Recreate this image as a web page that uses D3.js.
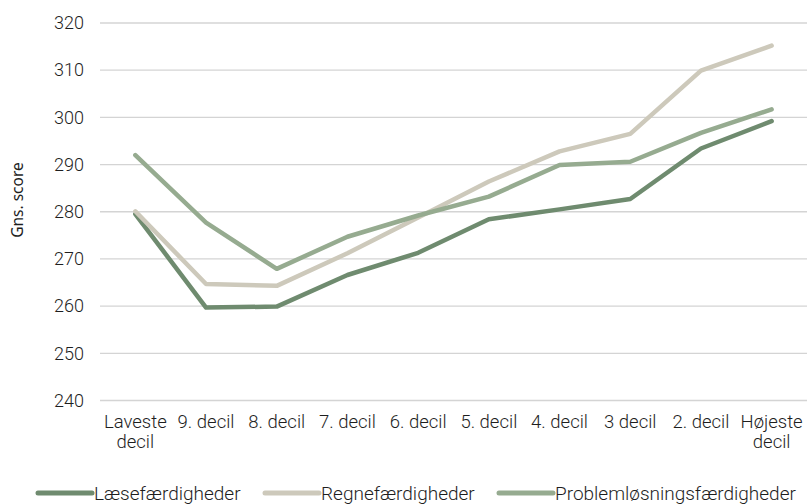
<!DOCTYPE html>
<html>
<head>
<meta charset="utf-8">
<script src="https://cdn.jsdelivr.net/npm/d3@7"></script>
<style>
  body { margin: 0; background: #fff; }
  text { font-family: Roboto, "Noto Sans", sans-serif; font-weight: 300; fill: #1e1e1e; }
</style>
</head>
<body>
<script>
// data
var deciler = ["Laveste decil", "9. decil", "8. decil", "7. decil", "6. decil", "5. decil", "4. decil", "3 decil", "2. decil", "Højeste decil"];
var laese = [279.5, 259.7, 259.9, 266.6, 271.3, 278.4, 280.5, 282.7, 293.4, 299.2];
var regne = [280.1, 264.7, 264.3, 271.2, 278.8, 286.4, 292.8, 296.5, 309.9, 315.2];
var problem = [292.0, 277.7, 267.9, 274.7, 279.2, 283.2, 289.9, 290.6, 296.7, 301.7];
var yTicks = [240, 250, 260, 270, 280, 290, 300, 310, 320];

var serier = [
    { navn: "Læsefærdigheder", vaerdier: laese, farve: "#6f8b6f" },
    { navn: "Regnefærdigheder", vaerdier: regne, farve: "#cdc9bb" },
    { navn: "Problemløsningsfærdigheder", vaerdier: problem, farve: "#96ab90" }
];

var width = 807, height = 504;
var plotLeft = 100, plotRight = 807, plotTop = 23, plotBottom = 400.5;

var svg = d3.select("body").append("svg")
    .attr("width", width)
    .attr("height", height);

var x = d3.scaleBand().domain(deciler).range([plotLeft, plotRight]);
var y = d3.scaleLinear().domain([240, 320]).range([plotBottom, plotTop]);

// gitterlinjer
svg.selectAll(".grid")
    .data(yTicks)
    .enter()
    .append("line")
    .attr("x1", plotLeft)
    .attr("x2", plotRight)
    .attr("y1", function (d) { return y(d); })
    .attr("y2", function (d) { return y(d); })
    .attr("stroke", "#d4d4d4")
    .attr("stroke-width", 1.3);

// y-akse tal
svg.selectAll(".ytick")
    .data(yTicks)
    .enter()
    .append("text")
    .attr("x", 84)
    .attr("y", function (d) { return y(d); })
    .attr("dy", "0.35em")
    .attr("text-anchor", "end")
    .style("font-size", "18px")
    .text(function (d) { return d; });

svg.append("text")
    .attr("transform", "translate(18,200) rotate(-90)")
    .attr("text-anchor", "middle")
    .attr("dy", "0.35em")
    .style("font-family", "'Noto Sans', sans-serif")
    .style("font-weight", "400")
    .style("font-size", "15.5px")
    .text("Gns. score");

// x-akse tekster, på to linjer hvor det behøves
var xl = svg.selectAll(".xtick")
    .data(deciler)
    .enter()
    .append("text")
    .attr("text-anchor", "middle")
    .style("font-size", "18.5px");

xl.each(function (d) {
    var ord = d.split(" ");
    var linjer = (ord[0] === "Laveste" || ord[0] === "Højeste") ? [ord[0], ord[1]] : [d];
    var t = d3.select(this);
    linjer.forEach(function (l, i) {
        t.append("tspan")
            .attr("x", x(d) + x.bandwidth() / 2)
            .attr("y", 428 + i * 20)
            .text(l);
    });
});

// linjer
var line = d3.line()
    .x(function (d, i) { return x(deciler[i]) + x.bandwidth() / 2; })
    .y(function (d) { return y(d); });

svg.selectAll(".serie")
    .data(serier)
    .enter()
    .append("path")
    .attr("d", function (d) { return line(d.vaerdier); })
    .attr("fill", "none")
    .attr("stroke", function (d) { return d.farve; })
    .attr("stroke-width", 4.5)
    .attr("stroke-linejoin", "round")
    .attr("stroke-linecap", "round");

// signaturforklaring
var legX = [36, 263, 497];
var leg = svg.selectAll(".legend")
    .data(serier)
    .enter()
    .append("g")
    .attr("transform", function (d, i) { return "translate(" + legX[i] + ",493)"; });

leg.append("line")
    .attr("x1", 2)
    .attr("x2", 56)
    .attr("stroke", function (d) { return d.farve; })
    .attr("stroke-width", 5)
    .attr("stroke-linecap", "round");

leg.append("text")
    .attr("x", 58)
    .attr("dy", "0.35em")
    .style("font-size", "19px")
    .text(function (d) { return d.navn; });
</script>
</body>
</html>
